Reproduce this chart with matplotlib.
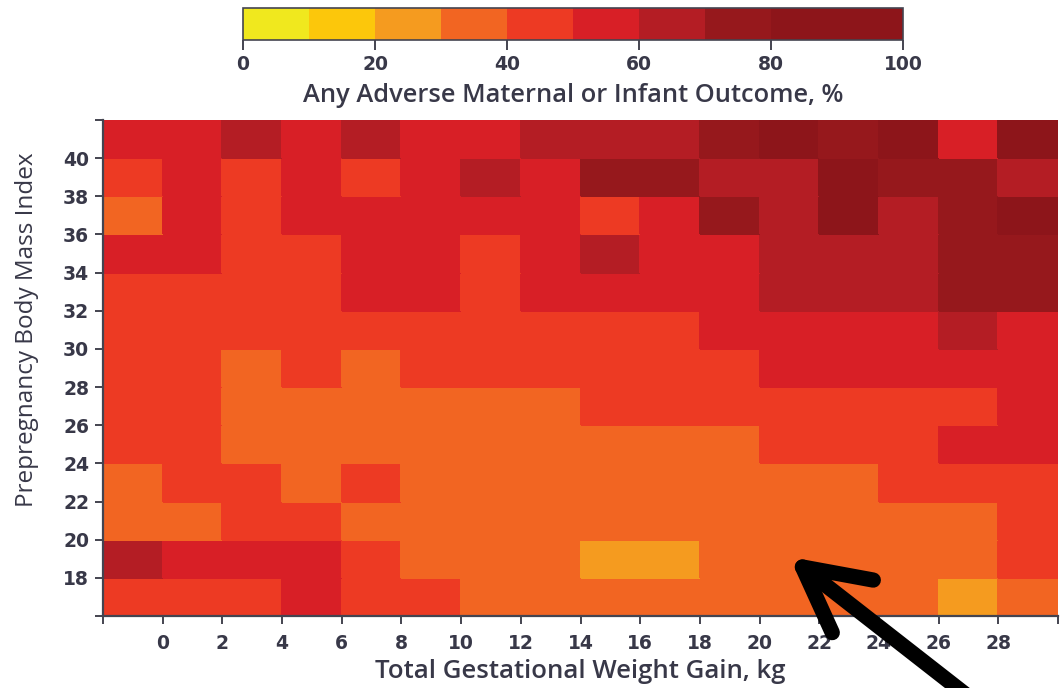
import numpy as np
import matplotlib
matplotlib.use("Agg")
import matplotlib.pyplot as plt
from matplotlib.colors import ListedColormap, BoundaryNorm

# ---- data ----
gain_edges = list(range(-2, 31, 2))          # kg, column edges
bmi_edges = list(range(16, 43, 2))            # BMI, row edges
gain_ticks = list(range(0, 29, 2))
bmi_ticks = list(range(18, 41, 2))
cbar_ticks = [0, 20, 40, 60, 80, 100]
cbar_bounds = list(range(0, 101, 10))
cbar_colors = ["#f0e81e", "#fcc70b", "#f59b1f", "#f26522", "#ed3a23",
               "#d81f26", "#b41d24", "#96181c", "#8d151a", "#8d151a"]

# outcome %, rows listed from top (BMI 40-42) to bottom (BMI 16-18)
row_40 = [55, 55, 65, 55, 65, 55, 55, 65, 65, 65, 75, 85, 75, 85, 55, 85]
row_38 = [45, 55, 45, 55, 45, 55, 65, 55, 75, 75, 65, 65, 85, 75, 75, 65]
row_36 = [35, 55, 45, 55, 55, 55, 55, 55, 45, 55, 75, 65, 85, 65, 75, 85]
row_34 = [55, 55, 45, 45, 55, 55, 45, 55, 65, 55, 55, 65, 65, 65, 75, 75]
row_32 = [45, 45, 45, 45, 55, 55, 45, 55, 55, 55, 55, 65, 65, 65, 75, 75]
row_30 = [45, 45, 45, 45, 45, 45, 45, 45, 45, 45, 55, 55, 55, 55, 65, 55]
row_28 = [45, 45, 35, 45, 35, 45, 45, 45, 45, 45, 45, 55, 55, 55, 55, 55]
row_26 = [45, 45, 35, 35, 35, 35, 35, 35, 45, 45, 45, 45, 45, 45, 45, 55]
row_24 = [45, 45, 35, 35, 35, 35, 35, 35, 35, 35, 35, 45, 45, 45, 55, 55]
row_22 = [35, 45, 45, 35, 45, 35, 35, 35, 35, 35, 35, 35, 35, 45, 45, 45]
row_20 = [35, 35, 45, 45, 35, 35, 35, 35, 35, 35, 35, 35, 35, 35, 35, 45]
row_18 = [65, 55, 55, 55, 45, 35, 35, 35, 25, 25, 35, 35, 35, 35, 35, 45]
row_16 = [45, 45, 45, 55, 45, 45, 35, 35, 35, 35, 35, 35, 35, 35, 25, 35]

grid = np.array([row_40, row_38, row_36, row_34, row_32, row_30, row_28,
                 row_26, row_24, row_22, row_20, row_18, row_16])[::-1]

txt = "#383848"
tickfont = dict(family=["DejaVu Sans"], weight="bold", size=13.5)
labfont = ["Open Sans", "DejaVu Sans"]

fig = plt.figure(figsize=(10.6, 6.88), dpi=100)

cmap = ListedColormap(cbar_colors)
norm = BoundaryNorm(cbar_bounds, cmap.N)

ax = fig.add_axes([103 / 1060, 1 - 616 / 688, 955 / 1060, 496 / 688])
mesh = ax.pcolormesh(gain_edges, bmi_edges, grid, cmap=cmap, norm=norm,
                     edgecolor="face", linewidth=0.3)
ax.set_xlim(gain_edges[0], gain_edges[-1])
ax.set_ylim(bmi_edges[0], bmi_edges[-1])
for s in ["top", "right"]:
    ax.spines[s].set_visible(False)
for s in ["left", "bottom"]:
    ax.spines[s].set_color("#444450")
    ax.spines[s].set_linewidth(1.6)
ax.set_xticks(gain_edges)
ax.set_xticklabels([str(v) if v in gain_ticks else "" for v in gain_edges])
ax.set_yticks(bmi_edges)
ax.set_yticklabels([str(v) if v in bmi_ticks else "" for v in bmi_edges])
ax.tick_params(axis="both", direction="out", length=6, width=1.4,
               color="#444450", labelcolor=txt)
ax.tick_params(axis="x", pad=7)
ax.tick_params(axis="y", pad=4)
for lab in ax.get_xticklabels() + ax.get_yticklabels():
    lab.set_fontfamily(tickfont["family"])
    lab.set_fontweight(tickfont["weight"])
    lab.set_fontsize(tickfont["size"])

ax.set_xlabel("Total Gestational Weight Gain, kg", fontsize=18.5, color=txt,
              family=labfont, weight="semibold", labelpad=4)
ax.set_ylabel("Prepregnancy Body Mass Index", fontsize=17.5, color=txt,
              family=labfont)
ax.yaxis.set_label_coords(-0.067, 0.577)

# colorbar
cax = fig.add_axes([243 / 1060, 1 - 40 / 688, 660 / 1060, 32 / 688])
cb = fig.colorbar(mesh, cax=cax, orientation="horizontal", ticks=cbar_ticks)
cax.minorticks_off()
cb.outline.set_edgecolor("#444450")
cb.outline.set_linewidth(1.2)
cax.tick_params(direction="out", length=7, width=1.4, color="#444450",
                labelcolor=txt, pad=4)
for lab in cax.get_xticklabels():
    lab.set_fontfamily(tickfont["family"])
    lab.set_fontweight(tickfont["weight"])
    lab.set_fontsize(tickfont["size"])
cb.set_label("Any Adverse Maternal or Infant Outcome, %", fontsize=18.4,
             color=txt, family=labfont, weight="semibold", labelpad=6)

# annotation arrow
arr = ax.annotate("", xy=(21.0, 19.1), xycoords="data",
                  xytext=(975 / 1060, -0.02), textcoords="figure fraction",
                  annotation_clip=False,
                  arrowprops=dict(arrowstyle="->,head_length=4.6,head_width=2.4",
                                  color="black", lw=11, capstyle="round",
                                  joinstyle="round", shrinkA=0, shrinkB=0,
                                  mutation_scale=10))
arr.arrow_patch.set_zorder(10)

fig.savefig("out.png", dpi=100)
